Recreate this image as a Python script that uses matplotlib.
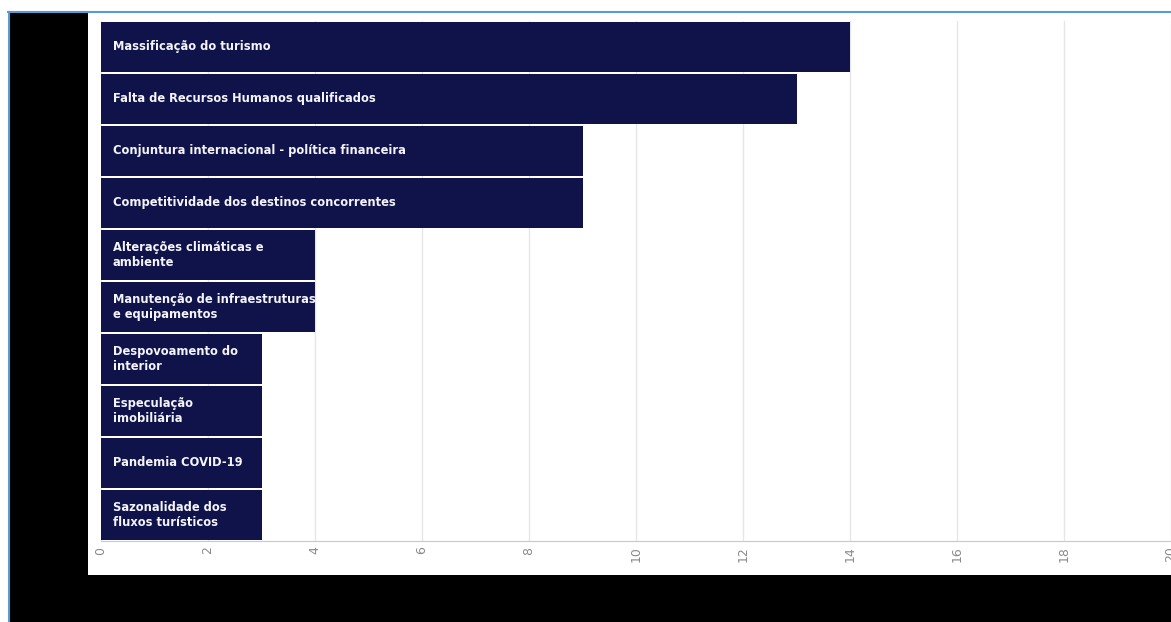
import matplotlib
matplotlib.use("Agg")
import matplotlib.pyplot as plt
from matplotlib.patches import Rectangle
from matplotlib.lines import Line2D

categories = [
    "Massificação do turismo",
    "Falta de Recursos Humanos qualificados",
    "Conjuntura internacional - política financeira",
    "Competitividade dos destinos concorrentes",
    "Alterações climáticas e\nambiente",
    "Manutenção de infraestruturas\ne equipamentos",
    "Despovoamento do\ninterior",
    "Especulação\nimobiliária",
    "Pandemia COVID-19",
    "Sazonalidade dos\nfluxos turísticos",
]
values = [14, 13, 9, 9, 4, 4, 3, 3, 3, 3]
x_ticks = [0, 2, 4, 6, 8, 10, 12, 14, 16, 18, 20]

W, H = 1171, 622
BAR_COLOR = "#10124a"

fig = plt.figure(figsize=(W / 100, H / 100), dpi=100, facecolor="black")

def fx(px):
    return px / W

def fy(py):
    return 1 - py / H

# page frame: white margins, blue rule, white chart panel
fig.patches.append(Rectangle((0, fy(12)), 1, 12 / H, transform=fig.transFigure,
                             facecolor="white", edgecolor="none", zorder=-2))
fig.patches.append(Rectangle((0, 0), fx(8), 1, transform=fig.transFigure,
                             facecolor="white", edgecolor="none", zorder=-2))
fig.patches.append(Rectangle((fx(88), fy(575)), 1 - fx(88), (575 - 13) / H,
                             transform=fig.transFigure, facecolor="white",
                             edgecolor="none", zorder=-2))
fig.lines.append(Line2D([fx(8), 1], [fy(12), fy(12)], transform=fig.transFigure,
                        color="#5b9bd5", linewidth=1.5, zorder=-1))
fig.lines.append(Line2D([fx(8.5), fx(8.5)], [0, fy(12)], transform=fig.transFigure,
                        color="#5b9bd5", linewidth=1.5, zorder=-1))

ax = fig.add_axes([fx(101), fy(541), 1 - fx(101), (541 - 21) / H])
ax.set_zorder(1)
ax.set_facecolor("white")

y = list(range(len(categories)))
ax.barh(y, values, height=0.96, color=BAR_COLOR, zorder=2)
for yi, lab in zip(y, categories):
    ax.text(0.22, yi, lab, color="#f4f4fa", fontsize=8.3, fontweight="bold",
            family="DejaVu Sans", va="center", ha="left", zorder=3,
            linespacing=1.25)

ax.set_ylim(len(categories) - 0.5, -0.5)
ax.set_xlim(0, 20)
ax.set_yticks([])
ax.set_xticks(x_ticks)
ax.set_xticklabels([str(t) for t in x_ticks], rotation=90, color="#8a8a8a",
                   fontsize=9, family="DejaVu Sans")
ax.tick_params(axis="x", length=0, pad=4)
ax.grid(axis="x", color="#e6e6e6", linewidth=1, zorder=0)
for s in ["top", "right", "left"]:
    ax.spines[s].set_visible(False)
ax.spines["bottom"].set_color("#c8c8c8")
ax.set_axisbelow(True)

fig.savefig("out.png", dpi=100, facecolor="black")
